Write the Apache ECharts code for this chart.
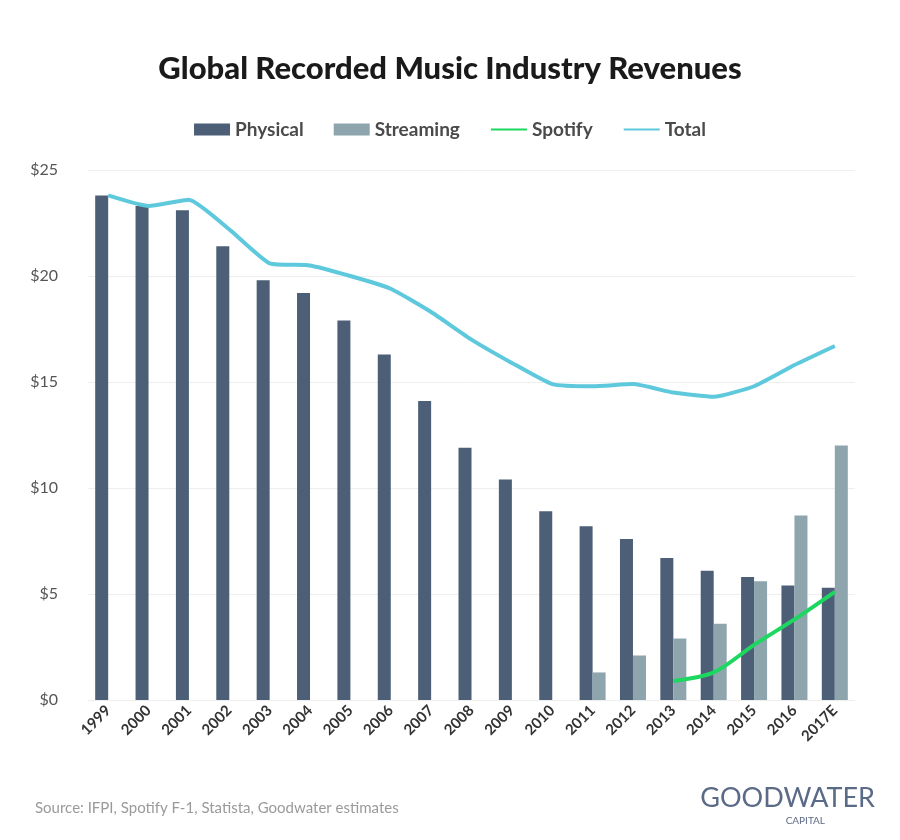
<!DOCTYPE html>
<html>
<head>
<meta charset="utf-8">
<script src="https://cdn.jsdelivr.net/npm/echarts@6/dist/echarts.min.js"></script>
<style>
  html, body { margin: 0; padding: 0; background: #fff; }
  #chart { width: 900px; height: 840px; }
</style>
</head>
<body>
<div id="chart"></div>
<script>
var years = ['1999','2000','2001','2002','2003','2004','2005','2006','2007','2008',
             '2009','2010','2011','2012','2013','2014','2015','2016','2017E'];
var physical = [23.8,23.3,23.1,21.4,19.8,19.2,17.9,16.3,14.1,11.9,10.4,8.9,8.2,7.6,6.7,6.1,5.8,5.4,5.3];
var streaming = [null,null,null,null,null,null,null,null,null,null,null,null,1.3,2.1,2.9,3.6,5.6,8.7,12.0];
var spotify = [null,null,null,null,null,null,null,null,null,null,null,null,null,null,0.9,1.3,2.6,3.8,5.1];
var total = [23.8,23.3,23.6,22.2,20.6,20.5,20.0,19.4,18.3,17.0,15.9,14.9,14.8,14.9,14.5,14.3,14.8,15.8,16.7];

var chart = echarts.init(document.getElementById('chart'));
var font = 'Lato, "Open Sans", sans-serif';
chart.setOption({
  animation: false,
  textStyle: { fontFamily: font },
  title: [{
    text: 'Global Recorded Music Industry Revenues',
    left: 'center', top: 48,
    textStyle: { fontSize: 31, fontWeight: 900, color: '#1a1a1a', fontFamily: font }
  }, {
    text: 'Source: IFPI, Spotify F-1, Statista, Goodwater estimates',
    left: 30, top: 796,
    textStyle: { fontSize: 15, fontWeight: 'normal', color: '#9a9a9a', fontFamily: font }
  }, {
    text: 'GOODWATER',
    right: 20, top: 780,
    textStyle: { fontSize: 27, fontWeight: 'normal', color: '#5b6a86', fontFamily: font }
  }, {
    text: 'CAPITAL',
    right: 70, top: 811,
    textStyle: { fontSize: 10, fontWeight: 'normal', color: '#5b6a86', fontFamily: font }
  }],
  legend: {
    top: 115, left: 'center',
    itemGap: 30,
    itemWidth: 36, itemHeight: 12,
    textStyle: { fontSize: 19, fontWeight: 'bold', color: '#4a4a4a' },
    data: [
      { name: 'Physical', icon: 'rect' },
      { name: 'Streaming', icon: 'rect' },
      { name: 'Spotify', itemStyle: { opacity: 0 } },
      { name: 'Total', itemStyle: { opacity: 0 } }
    ]
  },
  grid: { left: 88, right: 45, top: 170, bottom: 140 },
  xAxis: {
    type: 'category', data: years,
    axisLine: { show: false }, axisTick: { show: false },
    axisLabel: { rotate: 45, fontSize: 15, fontWeight: 'bold', color: '#333', margin: 8 }
  },
  yAxis: {
    type: 'value', min: 0, max: 25, interval: 5,
    axisLabel: { formatter: '${value}', fontSize: 16, color: '#555', margin: 30 },
    splitLine: { lineStyle: { color: '#eeeeee' } }
  },
  series: [
    { name: 'Physical', type: 'bar', data: physical, barWidth: 13, barGap: '0%',
      itemStyle: { color: '#4c5f77' } },
    { name: 'Streaming', type: 'bar', data: streaming, barWidth: 13,
      itemStyle: { color: '#8ea5ad' } },
    { name: 'Spotify', type: 'line', data: spotify, smooth: 0.3, symbol: 'none',
      lineStyle: { color: '#1ed760', width: 4 }, itemStyle: { color: '#1ed760' } },
    { name: 'Total', type: 'line', data: total, smooth: 0.15, symbol: 'none',
      lineStyle: { color: '#5ec8dd', width: 4 }, itemStyle: { color: '#5ec8dd' } }
  ]
});
</script>
</body>
</html>
